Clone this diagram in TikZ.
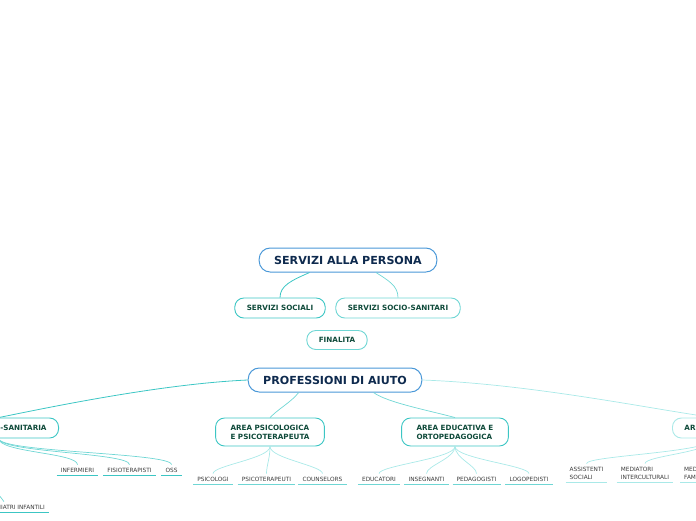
\documentclass[tikz,border=0pt]{standalone}
\usepackage{fontspec}
\setmainfont{DejaVu Sans}
\usetikzlibrary{positioning}
\definecolor{mainblue}{HTML}{4A98D8}
\definecolor{navytext}{HTML}{0E2A4E}
\definecolor{areateal}{HTML}{3CC6C4}
\definecolor{midteal}{HTML}{6FD6D4}
\definecolor{paleteal}{HTML}{A9E9E8}
\definecolor{greentext}{HTML}{0F4A3A}
\definecolor{leafgray}{HTML}{3A3A3A}
\tikzset{
    mainbox/.style={rectangle, draw=mainblue, line width=1pt, rounded corners=11pt, fill=white, minimum height=24pt, inner xsep=15pt, font=\fontsize{11.1}{13}\selectfont\bfseries, text=navytext},
    areabox/.style={rectangle, draw=areateal, line width=0.9pt, rounded corners=9pt, fill=white, minimum height=20pt, inner xsep=12pt, align=left, font=\fontsize{7.2}{9.2}\selectfont\bfseries, text=greentext},
    widebox/.style={areabox, minimum height=28pt, inner xsep=15pt},
    palebox/.style={areabox, draw=paleteal},
    midbox/.style={areabox, draw=midteal},
    leaf/.style={inner xsep=4pt, inner ysep=3pt, align=left, font=\fontsize{5.8}{8}\selectfont, text=leafgray},
    link/.style={draw=areateal, line width=0.8pt},
    midlink/.style={draw=midteal, line width=0.7pt},
    palelink/.style={draw=paleteal, line width=0.7pt}
}
\begin{document}
\begin{tikzpicture}[x=1pt, y=-1pt]
                \useasboundingbox (0,0) rectangle (696,520);
                \clip (0,0) rectangle (696,520);
                \node[mainbox] (persona) at (348,260) {SERVIZI ALLA PERSONA};
                \node[areabox] (sociali) at (280,308) {SERVIZI SOCIALI};
                \node[midbox] (sociosan) at (398,308) {SERVIZI SOCIO-SANITARI};
                \node[midbox, minimum height=19pt] (finalita) at (337,340) {FINALITA};
                \node[mainbox] (aiuto) at (335,380) {PROFESSIONI DI AIUTO};
                \node[areabox, anchor=east] (sanitaria) at (59,428) {AREA SOCIO-SANITARIA};
                \node[widebox] (psico) at (270,432) {AREA PSICOLOGICA\\E PSICOTERAPEUTA};
                \node[widebox] (educa) at (455,432) {AREA EDUCATIVA E\\ORTOPEDAGOGICA};
                \node[palebox, anchor=west] (sociale) at (672,428) {AREA SOCIALE};
                \node[leaf, anchor=east] (nps) at (49,507) {NEUROPSICHIATRI INFANTILI};
                \node[leaf] (inf) at (77.5,470) {INFERMIERI};
                \node[leaf] (fis) at (129.5,470) {FISIOTERAPISTI};
                \node[leaf] (oss) at (171.5,470) {OSS};
                \node[leaf] (psg) at (213,479) {PSICOLOGI};
                \node[leaf] (pst) at (266.5,479) {PSICOTERAPEUTI};
                \node[leaf] (cou) at (322.5,479) {COUNSELORS};
                \node[leaf] (edr) at (379,479) {EDUCATORI};
                \node[leaf] (ins) at (426.5,479) {INSEGNANTI};
                \node[leaf] (ped) at (476.5,479) {PEDAGOGISTI};
                \node[leaf] (log) at (529,479) {LOGOPEDISTI};
                \node[leaf] (ass) at (586.5,473) {ASSISTENTI\\SOCIALI};
                \node[leaf] (med) at (645,473) {MEDIATORI\\INTERCULTURALI};
                \node[leaf, anchor=west] (fam) at (680,473) {MEDIATORI\\FAMILIARI};
                \draw[link] (persona.-162) .. controls +(-18,8) and +(0,-12) .. (sociali.north);
                \draw[midlink] (persona.-24) .. controls +(12,8) and +(0,-12) .. (sociosan.north);
                \draw[link] (aiuto.west) .. controls +(-90,4) and +(40,-8) .. (sanitaria.north);
                \draw[palelink] (aiuto.east) .. controls +(110,4) and +(-60,-8) .. (sociale.north);
                \draw[midlink] (aiuto.-161) .. controls +(-8,10) and +(10,-10) .. (psico.north);
                \draw[midlink] (aiuto.-18) .. controls +(14,10) and +(-30,-8) .. (educa.north);
                \foreach \n in {inf,fis,oss}
                    \draw[midlink] (sanitaria.south) .. controls +(0,14) and +(0,-12) .. (\n.north);
                \draw[midlink] (sanitaria.south) .. controls +(-30,30) and +(-6,-10) .. (nps.north);
                \foreach \n in {psg,pst,cou}
                    \draw[palelink] (psico.south) .. controls +(0,12) and +(0,-8) .. (\n.north);
                \foreach \n in {edr,ins,ped,log}
                    \draw[palelink] (educa.south) .. controls +(0,12) and +(0,-8) .. (\n.north);
                \foreach \n in {ass,med}
                    \draw[palelink] (sociale.south) .. controls +(0,14) and +(0,-8) .. (\n.north);
                \foreach \n in {nps,inf,fis,oss}
                    \draw[areateal, line width=1.2pt] (\n.south west) -- (\n.south east);
                \foreach \n in {psg,pst,cou,edr,ins,ped,log}
                    \draw[midteal, line width=1.2pt] (\n.south west) -- (\n.south east);
                \foreach \n in {ass,med,fam}
                    \draw[paleteal, line width=1.2pt] (\n.south west) -- (\n.south east);
            \end{tikzpicture}
\end{document}
